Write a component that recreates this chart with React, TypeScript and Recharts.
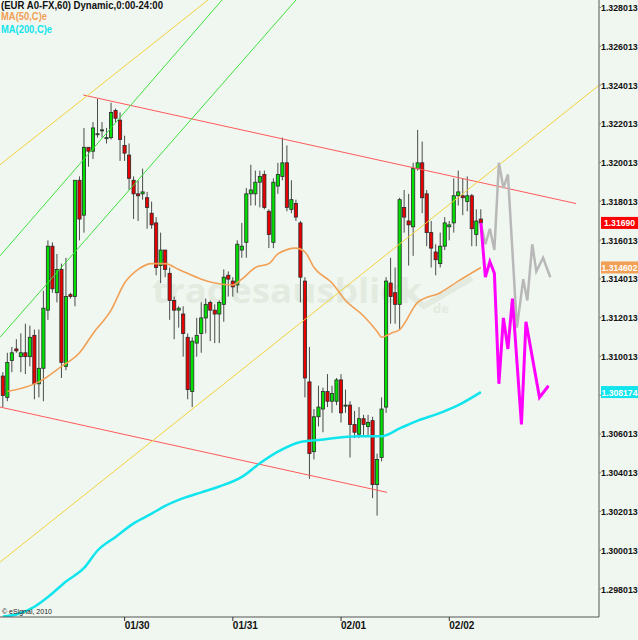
import React from 'react';
import { ComposedChart, Bar, Line, XAxis, YAxis, ReferenceLine } from 'recharts';

// hourly candles [open, high, low, close]
const candles: [number, number, number, number][] = [
  [1.3090, 1.3092, 1.3074, 1.3080], [1.3079, 1.3102, 1.3077, 1.3097], [1.3098, 1.3105, 1.3092, 1.3102],
  [1.3104, 1.3109, 1.3102, 1.3103], [1.3100, 1.3112, 1.3092, 1.3102], [1.3102, 1.3117, 1.3091, 1.3100],
  [1.3100, 1.3116, 1.3095, 1.3110], [1.3111, 1.3114, 1.3078, 1.3086], [1.3086, 1.3114, 1.3079, 1.3094],
  [1.3094, 1.3134, 1.3077, 1.3125], [1.3124, 1.3160, 1.3119, 1.3157], [1.3157, 1.3159, 1.3133, 1.3135],
  [1.3133, 1.3153, 1.3128, 1.3145], [1.3145, 1.3148, 1.3089, 1.3097], [1.3095, 1.3151, 1.3093, 1.3131],
  [1.3132, 1.3133, 1.3130, 1.3131], [1.3131, 1.3191, 1.3126, 1.3191], [1.3191, 1.3193, 1.3160, 1.3171],
  [1.3173, 1.3218, 1.3164, 1.3208], [1.3208, 1.3208, 1.3198, 1.3206], [1.3206, 1.3221, 1.3202, 1.3218],
  [1.3215, 1.3233, 1.3213, 1.3215], [1.3217, 1.3221, 1.3213, 1.3217], [1.3213, 1.3218, 1.3210, 1.3213],
  [1.3213, 1.3231, 1.3212, 1.3226], [1.3227, 1.3228, 1.3221, 1.3223], [1.3222, 1.3226, 1.3201, 1.3212],
  [1.3209, 1.3214, 1.3201, 1.3205], [1.3204, 1.3210, 1.3186, 1.3192], [1.3191, 1.3193, 1.3171, 1.3184],
  [1.3184, 1.3191, 1.3170, 1.3183], [1.3184, 1.3197, 1.3181, 1.3185], [1.3182, 1.3185, 1.3166, 1.3177],
  [1.3174, 1.3180, 1.3166, 1.3168], [1.3169, 1.3172, 1.3142, 1.3146], [1.3147, 1.3164, 1.3138, 1.3155],
  [1.3155, 1.3155, 1.3141, 1.3145], [1.3143, 1.3146, 1.3119, 1.3129], [1.3129, 1.3131, 1.3109, 1.3124],
  [1.3124, 1.3126, 1.3115, 1.3125], [1.3122, 1.3126, 1.3100, 1.3112], [1.3110, 1.3112, 1.3078, 1.3083],
  [1.3082, 1.3110, 1.3074, 1.3108], [1.3107, 1.3120, 1.3100, 1.3111], [1.3112, 1.3128, 1.3102, 1.3120],
  [1.3120, 1.3130, 1.3112, 1.3127], [1.3128, 1.3129, 1.3108, 1.3124], [1.3124, 1.3127, 1.3107, 1.3122],
  [1.3122, 1.3129, 1.3107, 1.3128], [1.3127, 1.3145, 1.3118, 1.3141], [1.3142, 1.3144, 1.3131, 1.3140],
  [1.3139, 1.3141, 1.3131, 1.3136], [1.3137, 1.3160, 1.3133, 1.3158], [1.3155, 1.3169, 1.3151, 1.3157],
  [1.3159, 1.3187, 1.3151, 1.3184], [1.3184, 1.3199, 1.3178, 1.3186], [1.3184, 1.3196, 1.3178, 1.3190],
  [1.3190, 1.3196, 1.3177, 1.3193], [1.3194, 1.3196, 1.3176, 1.3177], [1.3175, 1.3176, 1.3156, 1.3163],
  [1.3159, 1.3192, 1.3156, 1.3190], [1.3188, 1.3200, 1.3184, 1.3194], [1.3193, 1.3213, 1.3191, 1.3200],
  [1.3200, 1.3209, 1.3175, 1.3177], [1.3176, 1.3191, 1.3174, 1.3181], [1.3179, 1.3181, 1.3170, 1.3172],
  [1.3169, 1.3170, 1.3128, 1.3141], [1.3139, 1.3141, 1.3079, 1.3089], [1.3087, 1.3105, 1.3037, 1.3050],
  [1.3051, 1.3073, 1.3047, 1.3069], [1.3069, 1.3085, 1.3064, 1.3074], [1.3073, 1.3084, 1.3061, 1.3082],
  [1.3082, 1.3091, 1.3074, 1.3077], [1.3077, 1.3085, 1.3071, 1.3081], [1.3077, 1.3089, 1.3075, 1.3088],
  [1.3088, 1.3091, 1.3066, 1.3071], [1.3075, 1.3083, 1.3071, 1.3075], [1.3075, 1.3077, 1.3048, 1.3065],
  [1.3065, 1.3072, 1.3058, 1.3061], [1.3060, 1.3074, 1.3058, 1.3068], [1.3068, 1.3070, 1.3059, 1.3065],
  [1.3064, 1.3070, 1.3059, 1.3066], [1.3067, 1.3069, 1.3027, 1.3034], [1.3034, 1.3050, 1.3018, 1.3047],
  [1.3048, 1.3079, 1.3046, 1.3073], [1.3074, 1.3141, 1.3071, 1.3139], [1.3138, 1.3151, 1.3117, 1.3131],
  [1.3133, 1.3146, 1.3117, 1.3127], [1.3127, 1.3182, 1.3114, 1.3181], [1.3177, 1.3186, 1.3164, 1.3172],
  [1.3170, 1.3184, 1.3147, 1.3168], [1.3167, 1.3200, 1.3152, 1.3197], [1.3197, 1.3217, 1.3196, 1.3200],
  [1.3200, 1.3211, 1.3174, 1.3182], [1.3184, 1.3186, 1.3157, 1.3164], [1.3164, 1.3170, 1.3146, 1.3156],
  [1.3154, 1.3158, 1.3142, 1.3150], [1.3148, 1.3164, 1.3146, 1.3157], [1.3157, 1.3172, 1.3155, 1.3169],
  [1.3167, 1.3170, 1.3160, 1.3168], [1.3169, 1.3192, 1.3164, 1.3183], [1.3183, 1.3196, 1.3178, 1.3185],
  [1.3183, 1.3192, 1.3173, 1.3182], [1.3180, 1.3193, 1.3175, 1.3183], [1.3183, 1.3184, 1.3157, 1.3166],
  [1.3163, 1.3176, 1.3157, 1.3170], [1.3171, 1.3176, 1.3165, 1.3169],
];

// moving averages read at [bar index, value]
const ma50: [number, number][] = [
  [1, 1.3082], [8, 1.3087], [13, 1.3095], [17, 1.3102], [20, 1.3112], [24, 1.3124], [27, 1.3138],
  [30, 1.3145], [33, 1.3148], [36, 1.3148], [39, 1.3145], [44, 1.3140], [47, 1.3138], [51, 1.3137],
  [53, 1.3140], [56, 1.3146], [59, 1.3148], [61, 1.3153], [65, 1.3156], [67, 1.3154], [69, 1.3146],
  [73, 1.3138], [76, 1.3129], [80, 1.3121], [83, 1.3113], [84, 1.3110], [86, 1.3112], [88, 1.3114],
  [92, 1.3128], [97, 1.3133], [101, 1.3139], [106, 1.314602],
];
const ma200: [number, number][] = [
  [0, 1.2966], [3, 1.2967], [7, 1.2971], [10, 1.2976], [14, 1.2984], [18, 1.2991], [21, 1.3000],
  [25, 1.3007], [29, 1.3014], [33, 1.3019], [36, 1.3023], [40, 1.3027], [44, 1.3030], [48, 1.3033],
  [53, 1.3038], [57, 1.3045], [61, 1.3051], [66, 1.3056], [70, 1.3057], [79, 1.3059], [84, 1.3059],
  [88, 1.3063], [92, 1.3067], [97, 1.3071], [101, 1.3075], [106, 1.308174],
];

// projected paths
const pathMagenta: [number, number][] = [
  [106, 1.3169], [107, 1.3141], [108, 1.3149], [109, 1.3143], [110, 1.3086], [111, 1.3120],
  [112, 1.3104], [113, 1.3130], [115, 1.3065], [116, 1.3118], [119, 1.3079], [121, 1.3085],
];
const pathGray: [number, number][] = [
  [106, 1.3169], [107, 1.3158], [108, 1.3166], [109, 1.3155], [110, 1.3200], [111, 1.3187],
  [112, 1.3194], [114, 1.3115], [115.4, 1.3140], [116.3, 1.3129], [117.4, 1.3158], [118.3, 1.3144],
  [119.8, 1.3151], [121.4, 1.3141],
];

// trend lines [x1, y1, x2, y2, colour]
const trendLines: [number, number, number, number, string][] = [
  [17.8, 1.3235, 127.1, 1.3179, '#ff5a5a'],
  [-0.64, 1.3074, 85.2, 1.3030, '#ff5a5a'],
  [-0.64, 1.3199, 45.5, 1.3284, '#f2d23c'],
  [-0.64, 1.2994, 132.2, 1.3240, '#f2d23c'],
  [-0.64, 1.3152, 48.6, 1.3284, '#3ee03e'],
  [-0.64, 1.3110, 65.0, 1.3284, '#3ee03e'],
];

const dayTicks = [27, 51, 75, 99];
const dayLabels = ['01/30', '01/31', '02/01', '02/02'];
const priceTicks = [1.298013, 1.300013, 1.302013, 1.304013, 1.306013, 1.308013, 1.310013, 1.312013,
  1.314013, 1.316013, 1.318013, 1.320013, 1.322013, 1.324013, 1.326013, 1.328013];

const lastClose = 1.3169;
const ma50Last = 1.314602;
const ma200Last = 1.308174;

const X_MIN = -0.64;
const X_MAX = 132.2;
const Y_MIN = 1.29657;
const Y_MAX = 1.3284;

const bars = candles.map(([o, h, l, c], i) => ({ i, o, h, l, c }));
const toPts = (arr: [number, number][]) => arr.map(([i, v]) => ({ i, v }));

const FONT = 'Liberation Sans, Arial, sans-serif';

const Candle = (props: any) => {
  const { x, width, payload } = props;
  let { y, height } = props;
  if (height < 0) { y += height; height = -height; }
  const { o, h, l, c } = payload;
  const k = h - l > 0 ? height / (h - l) : 0;
  const top = y + (h - Math.max(o, c)) * k;
  const bot = y + (h - Math.min(o, c)) * k;
  const cx = x + width / 2;
  const up = c >= o;
  return (
    <g>
      <line x1={cx} x2={cx} y1={y} y2={y + height} stroke="#4a4a4a" strokeWidth={1} />
      <rect x={cx - 1.6} y={top} width={3.2} height={Math.max(bot - top, 1)}
        fill={up ? '#00e000' : '#e80000'} stroke="#2a2a2a" strokeWidth={0.8} />
    </g>
  );
};

const DateTick = (props: any) => {
  const { x, y, payload } = props;
  const idx = dayTicks.indexOf(payload.value);
  return (
    <text x={x} y={y + 8} textAnchor="start" fontSize={10} fontWeight="bold" fill="#111"
      fontFamily={FONT}>
      {dayLabels[idx]}
    </text>
  );
};

// the last-value badges sit on top of the axis, so the label under a badge is not drawn
const badgeValues = [lastClose, ma50Last, ma200Last];

const PriceTick = (props: any) => {
  const { x, y, payload } = props;
  const covered = badgeValues.some((b) => Math.abs(b - payload.value) < 0.0003);
  if (covered) return <g />;
  return (
    <text x={x} y={y + 3.5} textAnchor="start" fontSize={8.8} fontWeight="bold" fill="#111"
      fontFamily={FONT}>
      {payload.value.toFixed(6)}
    </text>
  );
};

const Badge = (props: any) => {
  const { viewBox, text, fill } = props;
  const x = viewBox.x + viewBox.width + 2;
  const y = viewBox.y;
  return (
    <g>
      <rect x={x} y={y - 6} width={37} height={12} fill={fill} />
      <text x={x + 18.5} y={y + 3.5} textAnchor="middle" fontSize={8.6} fontWeight="bold" fill="#fff"
        fontFamily={FONT}>{text}</text>
    </g>
  );
};

export default function App() {
  return (
    <div style={{ position: 'absolute', left: 0, top: 0, width: 638, height: 640, background: '#f0f7f0', overflow: 'hidden' }}>
      <svg width={638} height={640} style={{ position: 'absolute', left: 0, top: 0 }}>
        <text x={152} y={303} fontSize={34} fontWeight="bold" fill="#e3ebe0"
          fontFamily="Open Sans, sans-serif" textLength={270} lengthAdjust="spacingAndGlyphs">tradesausblick</text>
        <polyline points="404,290 424,306 472,278" fill="none" stroke="#e3ebe0" strokeWidth={6} />
        <text x={433} y={313} fontSize={13} fontWeight="bold" fill="#e3ebe0" fontFamily="Open Sans, sans-serif">de</text>
      </svg>
      <div style={{ position: 'absolute', left: 0, top: 0 }}>
        <ComposedChart width={638} height={640} data={bars} margin={{ top: 0, right: 0, bottom: 0, left: 0 }}>
          <XAxis dataKey="i" type="number" domain={[X_MIN, X_MAX]} allowDataOverflow ticks={dayTicks}
            interval={0} height={23} tickSize={4} tickMargin={0} tick={<DateTick />}
            axisLine={{ stroke: '#555' }} tickLine={{ stroke: '#333' }} />
          <YAxis orientation="right" type="number" domain={[Y_MIN, Y_MAX]} allowDataOverflow ticks={priceTicks}
            interval={0} width={39} tickSize={2} tickMargin={0} tick={<PriceTick />}
            axisLine={{ stroke: '#555' }} tickLine={{ stroke: '#888' }} />
          {trendLines.map(([x1, y1, x2, y2, col], k) => (
            <ReferenceLine key={k} segment={[{ x: x1, y: y1 }, { x: x2, y: y2 }]} stroke={col}
              strokeWidth={1} ifOverflow="hidden" />
          ))}
          <Line data={toPts(ma200)} dataKey="v" stroke="#10e4ec" strokeWidth={2.5} dot={false} activeDot={false}
            isAnimationActive={false} type="monotone" />
          <Line data={toPts(ma50)} dataKey="v" stroke="#f2a055" strokeWidth={1.6} dot={false} activeDot={false}
            isAnimationActive={false} type="monotone" />
          <Bar dataKey={(d: any) => [d.l, d.h]} barSize={4} shape={<Candle />} isAnimationActive={false} />
          <Line data={toPts(pathGray)} dataKey="v" stroke="#b8b8b8" strokeWidth={2.5} dot={false} activeDot={false}
            isAnimationActive={false} />
          <Line data={toPts(pathMagenta)} dataKey="v" stroke="#ff00ff" strokeWidth={3} dot={false} activeDot={false}
            isAnimationActive={false} />
          <ReferenceLine y={lastClose} stroke="none" label={<Badge text="1.31690" fill="#ff0000" />} />
          <ReferenceLine y={ma50Last} stroke="none" label={<Badge text="1.314602" fill="#f2a055" />} />
          <ReferenceLine y={ma200Last} stroke="none" label={<Badge text="1.308174" fill="#10e4ec" />} />
        </ComposedChart>
      </div>
      <svg width={638} height={640} style={{ position: 'absolute', left: 0, top: 0, pointerEvents: 'none' }}>
        <text x={1} y={9} fontSize={10.5} fontWeight="bold" fill="#111" fontFamily={FONT}
          textLength={162} lengthAdjust="spacingAndGlyphs">(EUR A0-FX,60) Dynamic,0:00-24:00</text>
        <text x={1} y={20} fontSize={10.5} fontWeight="bold" fill="#f2a055" fontFamily={FONT}
          textLength={46} lengthAdjust="spacingAndGlyphs">MA(50,C)e</text>
        <text x={1} y={33} fontSize={10.5} fontWeight="bold" fill="#10e4ec" fontFamily={FONT}
          textLength={51} lengthAdjust="spacingAndGlyphs">MA(200,C)e</text>
        <text x={2} y={614} fontSize={7} fill="#222" fontFamily={FONT}>© eSignal, 2010</text>
      </svg>
    </div>
  );
}
